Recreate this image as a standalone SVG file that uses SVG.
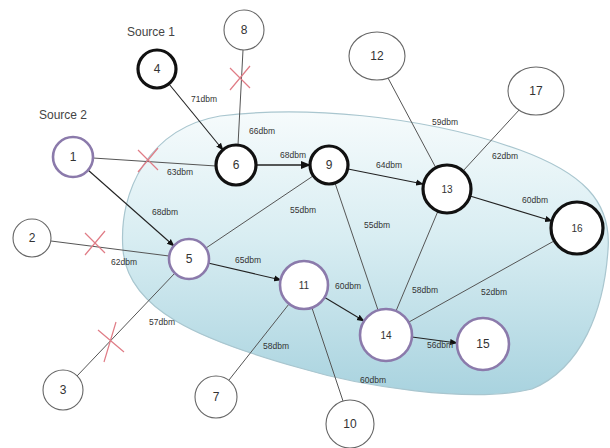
<svg xmlns="http://www.w3.org/2000/svg" width="610" height="448" viewBox="0 0 610 448">
<defs>
<linearGradient id="blob" x1="0" y1="0" x2="0" y2="1">
<stop offset="0" stop-color="#f6fbfc"/>
<stop offset="0.45" stop-color="#d8edf2"/>
<stop offset="1" stop-color="#a9d3df"/>
</linearGradient>
<marker id="arr" viewBox="0 0 10 10" refX="9" refY="5" markerWidth="7" markerHeight="7" orient="auto">
<path d="M0,1 L10,5 L0,9 Z" fill="#111"/>
</marker>
<style>
.n{fill:#fff}
.blk{stroke:#111;stroke-width:3.2}
.pur{stroke:#8b7aab;stroke-width:2.6}
.thn{stroke:#666;stroke-width:1.1}
.e{stroke:#555;stroke-width:1;fill:none}
.a{stroke:#222;stroke-width:1.1;fill:none;marker-end:url(#arr)}
.x{stroke:#e07c86;stroke-width:1.2}
.t{font-family:"Liberation Sans",Arial,sans-serif;font-size:12px;fill:#333;text-anchor:middle}
.l{font-family:"Liberation Sans",Arial,sans-serif;font-size:8.5px;fill:#333;text-anchor:middle}
.s{font-family:"Liberation Sans",Arial,sans-serif;font-size:12px;fill:#444;text-anchor:middle}
</style>
</defs>
<rect width="610" height="448" fill="#fff"/>
<path id="region" d="M123,250 C118,190 150,128 220,116 C300,106 420,114 520,150 C580,172 612,200 608,250 C604,310 582,368 532,389 C470,404 360,386 300,368 C200,340 128,310 123,250 Z" fill="url(#blob)" stroke="#a9c6cf" stroke-width="1.2"/>
<g id="connectors">
<line class="a" x1="169" y1="84" x2="223" y2="150"/>
<line class="e" x1="243" y1="50" x2="238" y2="145"/>
<line class="e" x1="93" y1="158" x2="216" y2="166"/>
<line class="a" x1="256" y1="165" x2="310" y2="165" style="stroke-width:1.5"/>
<line class="a" x1="88" y1="170" x2="174" y2="246"/>
<line class="e" x1="206" y1="248" x2="313" y2="176"/>
<line class="a" x1="348" y1="169" x2="423" y2="184"/>
<line class="e" x1="335" y1="183" x2="378" y2="310"/>
<line class="e" x1="388" y1="78" x2="436" y2="168"/>
<line class="e" x1="520" y1="109" x2="463" y2="171"/>
<line class="a" x1="470" y1="196" x2="552" y2="221"/>
<line class="e" x1="51" y1="241" x2="169" y2="256"/>
<line class="a" x1="208" y1="263" x2="281" y2="280"/>
<line class="e" x1="77" y1="376" x2="175" y2="273"/>
<line class="a" x1="324" y1="297" x2="364" y2="321"/>
<line class="e" x1="438" y1="211" x2="396" y2="311"/>
<line class="e" x1="554" y1="241" x2="409" y2="322"/>
<line class="a" x1="412" y1="337" x2="457" y2="343"/>
<line class="e" x1="289" y1="304" x2="229" y2="380"/>
<line class="e" x1="312" y1="308" x2="343" y2="401"/>
<g id="crosses">
<path class="x" d="M230,68 L250,88 M250,66 L230,90"/>
<path class="x" d="M138,150 L158,170 M158,148 L138,172"/>
<path class="x" d="M85,233 L105,253 M105,231 L85,255"/>
<path class="x" d="M98,330 L124,352 M116,322 L104,362"/>
</g>
</g>
<g id="labels">
<text class="s" x="151" y="36">Source 1</text>
<text class="s" x="63" y="119">Source 2</text>
<text class="l" x="204" y="102">71dbm</text>
<text class="l" x="262" y="134">66dbm</text>
<text class="l" x="180" y="175">63dbm</text>
<text class="l" x="293" y="158">68dbm</text>
<text class="l" x="165" y="215">68dbm</text>
<text class="l" x="303" y="213">55dbm</text>
<text class="l" x="389" y="168">64dbm</text>
<text class="l" x="377" y="228">55dbm</text>
<text class="l" x="445" y="125">59dbm</text>
<text class="l" x="505" y="159">62dbm</text>
<text class="l" x="535" y="203">60dbm</text>
<text class="l" x="124" y="265">62dbm</text>
<text class="l" x="248" y="263">65dbm</text>
<text class="l" x="162" y="325">57dbm</text>
<text class="l" x="348" y="289">60dbm</text>
<text class="l" x="425" y="293">58dbm</text>
<text class="l" x="494" y="295">52dbm</text>
<text class="l" x="440" y="348">56dbm</text>
<text class="l" x="276" y="349">58dbm</text>
<text class="l" x="373" y="383">60dbm</text>
</g>
<g id="node4"><circle class="n blk" cx="157" cy="69" r="19"/><text class="t" x="157" y="73">4</text></g>
<g id="node8"><circle class="n thn" cx="244" cy="30" r="20"/><text class="t" x="244" y="34">8</text></g>
<g id="node1"><circle class="n pur" cx="73" cy="157" r="20"/><text class="t" x="73" y="161">1</text></g>
<g id="node6"><circle class="n blk" cx="236" cy="165" r="20"/><text class="t" x="236" y="169">6</text></g>
<g id="node9"><circle class="n blk" cx="329" cy="165" r="19"/><text class="t" x="329" y="169">9</text></g>
<g id="node12"><ellipse class="n thn" cx="377" cy="56" rx="28" ry="24"/><text class="t" x="377" y="60">12</text></g>
<g id="node17"><ellipse class="n thn" cx="536" cy="91" rx="28" ry="24"/><text class="t" x="536" y="95">17</text></g>
<g id="node13"><circle class="n blk" cx="447" cy="189" r="24"/><text class="t" x="447" y="193" style="font-size:10px">13</text></g>
<g id="node16"><circle class="n blk" cx="577" cy="228" r="26"/><text class="t" x="577" y="232" style="font-size:10px">16</text></g>
<g id="node2"><circle class="n thn" cx="32" cy="238" r="19"/><text class="t" x="32" y="242">2</text></g>
<g id="node5"><circle class="n pur" cx="189" cy="259" r="20"/><text class="t" x="189" y="263">5</text></g>
<g id="node11"><circle class="n pur" cx="304" cy="285" r="24"/><text class="t" x="304" y="289" style="font-size:10px">11</text></g>
<g id="node14"><circle class="n pur" cx="386" cy="335" r="26"/><text class="t" x="386" y="339" style="font-size:10px">14</text></g>
<g id="node15"><circle class="n pur" cx="483" cy="344" r="26"/><text class="t" x="483" y="348">15</text></g>
<g id="node3"><circle class="n thn" cx="63" cy="390" r="20"/><text class="t" x="63" y="394">3</text></g>
<g id="node7"><circle class="n thn" cx="216" cy="397" r="21"/><text class="t" x="216" y="401">7</text></g>
<g id="node10"><circle class="n thn" cx="350" cy="424" r="24"/><text class="t" x="350" y="428">10</text></g>
</svg>
